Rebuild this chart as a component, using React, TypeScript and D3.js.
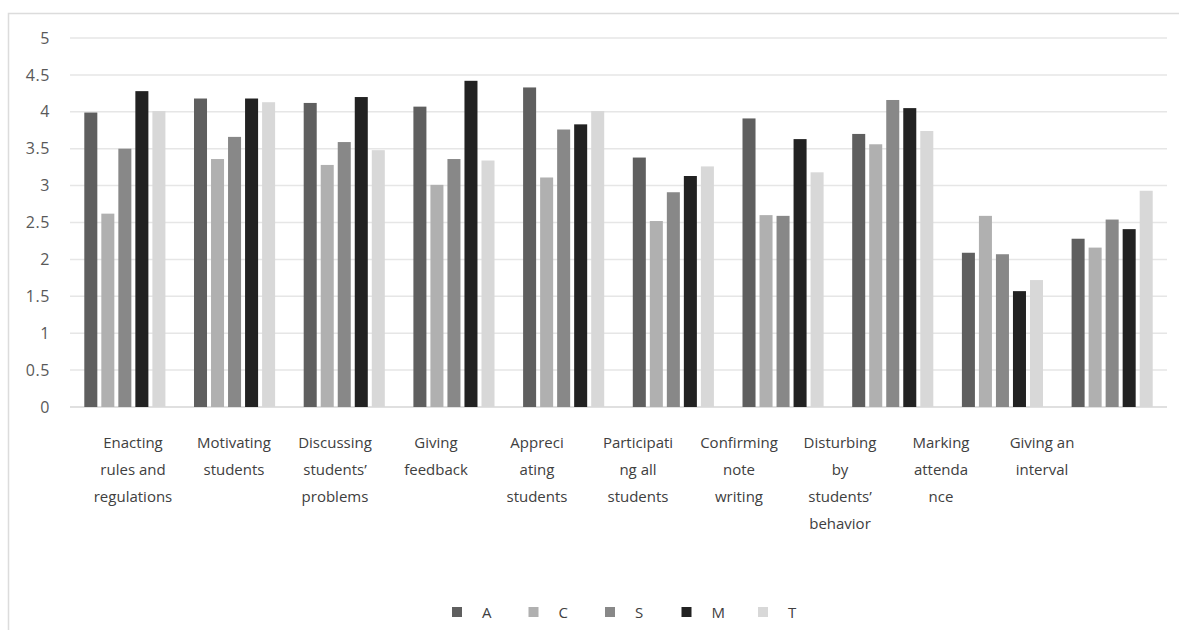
import React from "react";
import * as d3 from "d3";

const categories = [
  "Enacting rules and regulations",
  "Motivating students",
  "Discussing students' problems",
  "Giving feedback",
  "Appreciating students",
  "Participating all students",
  "Confirming note writing",
  "Disturbing by students' behavior",
  "Marking attendance",
  "Giving an interval",
];

const categoryLines: string[][] = [
  ["Enacting", "rules and", "regulations"],
  ["Motivating", "students"],
  ["Discussing", "students\u2019", "problems"],
  ["Giving", "feedback"],
  ["Appreci", "ating", "students"],
  ["Participati", "ng all", "students"],
  ["Confirming", "note", "writing"],
  ["Disturbing", "by", "students\u2019", "behavior"],
  ["Marking", "attenda", "nce"],
  ["Giving an", "interval"],
];

const seriesNames = ["A", "C", "S", "M", "T"];
const seriesColors = ["#5f5f5f", "#b0b0b0", "#888888", "#222222", "#d8d8d8"];

const valuesA = [3.99, 4.18, 4.12, 4.07, 4.33, 3.38, 3.91, 3.7, 2.09, 2.28];
const valuesC = [2.62, 3.36, 3.28, 3.01, 3.11, 2.52, 2.6, 3.56, 2.59, 2.16];
const valuesS = [3.5, 3.66, 3.59, 3.36, 3.76, 2.91, 2.59, 4.16, 2.07, 2.54];
const valuesM = [4.28, 4.18, 4.2, 4.42, 3.83, 3.13, 3.63, 4.05, 1.57, 2.41];
const valuesT = [4.01, 4.13, 3.48, 3.34, 4.01, 3.26, 3.18, 3.74, 1.72, 2.93];

const seriesValues = [valuesA, valuesC, valuesS, valuesM, valuesT];

const yTicks = [0, 0.5, 1, 1.5, 2, 2.5, 3, 3.5, 4, 4.5, 5];

export default function App() {
  const W = 1179;
  const H = 630;
  const x0 = d3.scaleBand<string>().domain(categories).range([70, 1167]).padding(0);
  const x1 = d3
    .scaleBand<string>()
    .domain(seriesNames)
    .range([0, x0.bandwidth()])
    .paddingInner(0.235)
    .paddingOuter(0.84);
  const y = d3.scaleLinear().domain([0, 5]).range([407, 38]);
  const xLabel = d3.scalePoint<string>().domain(categories).range([133, 1042]);
  const legendX = d3.scalePoint<string>().domain(seriesNames).range([452, 758]);
  const font = "'Open Sans', 'DejaVu Sans', sans-serif";

  return (
    <svg
      width={W}
      height={H}
      style={{ position: "absolute", left: 0, top: 0, background: "#fff" }}
      fontFamily={font}
    >
      <rect x={0} y={0} width={W} height={H} fill="#fff" />
      <rect x={8.5} y={13.5} width={W + 20} height={H + 20} fill="none" stroke="#dcdcdc" strokeWidth={1.5} />
      {yTicks.map((t) => (
        <g key={t}>
          <line x1={70} x2={1167} y1={y(t)} y2={y(t)} stroke={t === 0 ? "#d6d6d6" : "#e6e6e6"} strokeWidth={1.5} />
          <text x={50} y={y(t)} dy="0.35em" textAnchor="end" fontSize={16} fill="#595959" letterSpacing={0.6}>
            {String(t)}
          </text>
        </g>
      ))}
      {categories.map((c, ci) => (
        <g key={c} transform={`translate(${x0(c)},0)`}>
          {seriesNames.map((s, si) => {
            const v = seriesValues[si][ci];
            return (
              <rect
                key={s}
                x={x1(s)}
                y={y(v)}
                width={x1.bandwidth()}
                height={y(0) - y(v)}
                fill={seriesColors[si]}
              />
            );
          })}
        </g>
      ))}
      {categories.map((c, ci) => (
        <text key={c} x={xLabel(c)} y={448} textAnchor="middle" fontSize={15} fill="#404040">
          {categoryLines[ci].map((line, li) => (
            <tspan key={li} x={xLabel(c)} y={448 + li * 27}>
              {line}
            </tspan>
          ))}
        </text>
      ))}
      {seriesNames.map((s, si) => (
        <g key={s} transform={`translate(${legendX(s)},607)`}>
          <rect x={0} y={0} width={10} height={10} fill={seriesColors[si]} />
          <text x={30} y={10.5} fontSize={15} fill="#404040">
            {s}
          </text>
        </g>
      ))}
    </svg>
  );
}
